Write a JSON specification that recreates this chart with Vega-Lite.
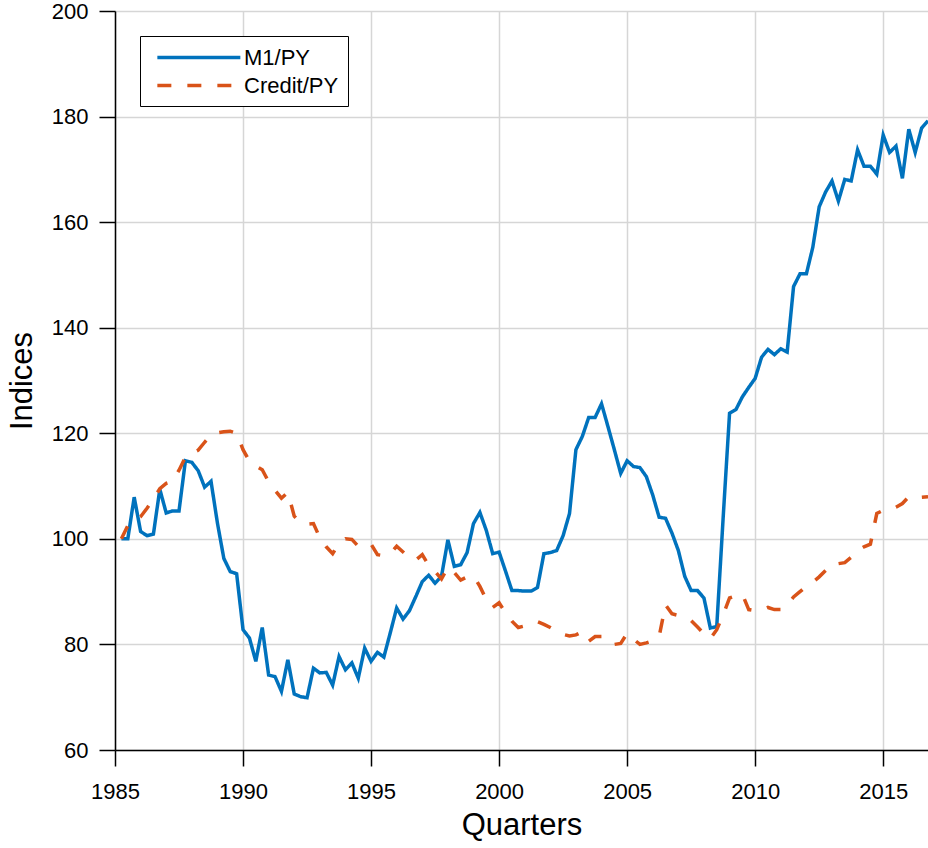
{
  "$schema": "https://vega.github.io/schema/vega-lite/v6.json",
  "width": 813,
  "height": 739,
  "autosize": {"type": "none"},
  "padding": {"left": 115, "top": 11, "right": 0, "bottom": 98},
  "background": "white",
  "config": {
    "view": {"stroke": null},
    "font": "Liberation Sans",
    "axis": {
      "domainColor": "black",
      "domainWidth": 1.5,
      "tickColor": "black",
      "tickWidth": 1.5,
      "tickSize": 16,
      "labelColor": "black",
      "titleColor": "black",
      "labelFont": "Liberation Sans",
      "titleFont": "Liberation Sans",
      "labelFontSize": 22,
      "titleFontSize": 31,
      "titleFontWeight": "normal",
      "gridColor": "#d6d6d6",
      "gridWidth": 1.5
    },
    "legend": {
      "orient": "none",
      "legendX": 25,
      "legendY": 25,
      "symbolType": "M-0.4,0H7.6",
      "symbolSize": 430.6,
      "symbolStrokeWidth": 3.5,
      "labelFont": "Liberation Sans",
      "labelFontSize": 22,
      "labelColor": "black",
      "strokeColor": "black",
      "fillColor": "white",
      "padding": 9,
      "rowPadding": 4,
      "labelOffset": 70
    }
  },
  "data": {
    "values": [
      {"t":1985.25,"M1/PY":100.0,"Credit/PY":100.0},
      {"t":1985.5,"M1/PY":100.0,"Credit/PY":102.5},
      {"t":1985.75,"M1/PY":107.9,"Credit/PY":103.6},
      {"t":1986,"M1/PY":101.4,"Credit/PY":104.2},
      {"t":1986.25,"M1/PY":100.6,"Credit/PY":105.8},
      {"t":1986.5,"M1/PY":100.9,"Credit/PY":107.5},
      {"t":1986.75,"M1/PY":109.4,"Credit/PY":109.5},
      {"t":1987,"M1/PY":104.9,"Credit/PY":110.5},
      {"t":1987.25,"M1/PY":105.3,"Credit/PY":110.9},
      {"t":1987.5,"M1/PY":105.3,"Credit/PY":113.0},
      {"t":1987.75,"M1/PY":114.8,"Credit/PY":115.5},
      {"t":1988,"M1/PY":114.5,"Credit/PY":116.2},
      {"t":1988.25,"M1/PY":112.9,"Credit/PY":116.8},
      {"t":1988.5,"M1/PY":109.8,"Credit/PY":118.3},
      {"t":1988.75,"M1/PY":110.9,"Credit/PY":119.7},
      {"t":1989,"M1/PY":103.0,"Credit/PY":120.1},
      {"t":1989.25,"M1/PY":96.3,"Credit/PY":120.3},
      {"t":1989.5,"M1/PY":93.8,"Credit/PY":120.4},
      {"t":1989.75,"M1/PY":93.4,"Credit/PY":120.0},
      {"t":1990,"M1/PY":82.8,"Credit/PY":116.9},
      {"t":1990.25,"M1/PY":81.2,"Credit/PY":114.7},
      {"t":1990.5,"M1/PY":76.8,"Credit/PY":113.8},
      {"t":1990.75,"M1/PY":83.2,"Credit/PY":113.1},
      {"t":1991,"M1/PY":74.2,"Credit/PY":110.8},
      {"t":1991.25,"M1/PY":73.9,"Credit/PY":109.2},
      {"t":1991.5,"M1/PY":71.1,"Credit/PY":107.7},
      {"t":1991.75,"M1/PY":77.1,"Credit/PY":108.8},
      {"t":1992,"M1/PY":70.6,"Credit/PY":104.3},
      {"t":1992.25,"M1/PY":70.1,"Credit/PY":103.0},
      {"t":1992.5,"M1/PY":69.9,"Credit/PY":102.8},
      {"t":1992.75,"M1/PY":75.5,"Credit/PY":102.9},
      {"t":1993,"M1/PY":74.6,"Credit/PY":100.2},
      {"t":1993.25,"M1/PY":74.7,"Credit/PY":98.5},
      {"t":1993.5,"M1/PY":72.3,"Credit/PY":97.2},
      {"t":1993.75,"M1/PY":77.7,"Credit/PY":99.2},
      {"t":1994,"M1/PY":75.2,"Credit/PY":100.0},
      {"t":1994.25,"M1/PY":76.5,"Credit/PY":99.9},
      {"t":1994.5,"M1/PY":73.6,"Credit/PY":98.6},
      {"t":1994.75,"M1/PY":79.3,"Credit/PY":98.8},
      {"t":1995,"M1/PY":76.8,"Credit/PY":99.0},
      {"t":1995.25,"M1/PY":78.5,"Credit/PY":97.0},
      {"t":1995.5,"M1/PY":77.6,"Credit/PY":96.8},
      {"t":1995.75,"M1/PY":82.2,"Credit/PY":97.2},
      {"t":1996,"M1/PY":86.9,"Credit/PY":98.6},
      {"t":1996.25,"M1/PY":84.8,"Credit/PY":97.5},
      {"t":1996.5,"M1/PY":86.4,"Credit/PY":96.4},
      {"t":1996.75,"M1/PY":89.1,"Credit/PY":96.0},
      {"t":1997,"M1/PY":91.9,"Credit/PY":97.0},
      {"t":1997.25,"M1/PY":93.1,"Credit/PY":95.0},
      {"t":1997.5,"M1/PY":91.6,"Credit/PY":93.8},
      {"t":1997.75,"M1/PY":92.9,"Credit/PY":92.4},
      {"t":1998,"M1/PY":99.8,"Credit/PY":94.6},
      {"t":1998.25,"M1/PY":94.8,"Credit/PY":93.6},
      {"t":1998.5,"M1/PY":95.1,"Credit/PY":92.2},
      {"t":1998.75,"M1/PY":97.4,"Credit/PY":92.8},
      {"t":1999,"M1/PY":102.9,"Credit/PY":93.0},
      {"t":1999.25,"M1/PY":105.0,"Credit/PY":91.0},
      {"t":1999.5,"M1/PY":101.6,"Credit/PY":88.5},
      {"t":1999.75,"M1/PY":97.2,"Credit/PY":87.0},
      {"t":2000,"M1/PY":97.5,"Credit/PY":87.9},
      {"t":2000.25,"M1/PY":93.9,"Credit/PY":86.0},
      {"t":2000.5,"M1/PY":90.2,"Credit/PY":84.4},
      {"t":2000.75,"M1/PY":90.2,"Credit/PY":83.2},
      {"t":2001,"M1/PY":90.1,"Credit/PY":83.5},
      {"t":2001.25,"M1/PY":90.1,"Credit/PY":84.0},
      {"t":2001.5,"M1/PY":90.8,"Credit/PY":84.3},
      {"t":2001.75,"M1/PY":97.2,"Credit/PY":83.8},
      {"t":2002,"M1/PY":97.4,"Credit/PY":83.2},
      {"t":2002.25,"M1/PY":97.8,"Credit/PY":82.5},
      {"t":2002.5,"M1/PY":100.6,"Credit/PY":81.9},
      {"t":2002.75,"M1/PY":104.8,"Credit/PY":81.6},
      {"t":2003,"M1/PY":116.9,"Credit/PY":81.8},
      {"t":2003.25,"M1/PY":119.4,"Credit/PY":82.4},
      {"t":2003.5,"M1/PY":123.0,"Credit/PY":80.6},
      {"t":2003.75,"M1/PY":123.0,"Credit/PY":81.5},
      {"t":2004,"M1/PY":125.6,"Credit/PY":81.5},
      {"t":2004.25,"M1/PY":121.3,"Credit/PY":80.3},
      {"t":2004.5,"M1/PY":116.9,"Credit/PY":80.0},
      {"t":2004.75,"M1/PY":112.4,"Credit/PY":80.2},
      {"t":2005,"M1/PY":114.8,"Credit/PY":82.1},
      {"t":2005.25,"M1/PY":113.7,"Credit/PY":81.0},
      {"t":2005.5,"M1/PY":113.5,"Credit/PY":80.0},
      {"t":2005.75,"M1/PY":111.8,"Credit/PY":80.3},
      {"t":2006,"M1/PY":108.3,"Credit/PY":80.7},
      {"t":2006.25,"M1/PY":104.1,"Credit/PY":81.5},
      {"t":2006.5,"M1/PY":103.9,"Credit/PY":87.5},
      {"t":2006.75,"M1/PY":101.1,"Credit/PY":85.8},
      {"t":2007,"M1/PY":97.8,"Credit/PY":85.5},
      {"t":2007.25,"M1/PY":92.9,"Credit/PY":85.1},
      {"t":2007.5,"M1/PY":90.2,"Credit/PY":84.5},
      {"t":2007.75,"M1/PY":90.2,"Credit/PY":83.3},
      {"t":2008,"M1/PY":88.8,"Credit/PY":82.0},
      {"t":2008.25,"M1/PY":83.1,"Credit/PY":81.1},
      {"t":2008.5,"M1/PY":83.4,"Credit/PY":82.8},
      {"t":2008.75,"M1/PY":104.0,"Credit/PY":85.6},
      {"t":2009,"M1/PY":123.8,"Credit/PY":88.8},
      {"t":2009.25,"M1/PY":124.5,"Credit/PY":89.2},
      {"t":2009.5,"M1/PY":126.9,"Credit/PY":89.5},
      {"t":2009.75,"M1/PY":128.7,"Credit/PY":86.6},
      {"t":2010,"M1/PY":130.4,"Credit/PY":86.4},
      {"t":2010.25,"M1/PY":134.4,"Credit/PY":86.5},
      {"t":2010.5,"M1/PY":135.9,"Credit/PY":87.0},
      {"t":2010.75,"M1/PY":134.9,"Credit/PY":86.6},
      {"t":2011,"M1/PY":136.0,"Credit/PY":86.6},
      {"t":2011.25,"M1/PY":135.4,"Credit/PY":87.5},
      {"t":2011.5,"M1/PY":147.8,"Credit/PY":89.0},
      {"t":2011.75,"M1/PY":150.2,"Credit/PY":90.0},
      {"t":2012,"M1/PY":150.2,"Credit/PY":91.0},
      {"t":2012.25,"M1/PY":155.2,"Credit/PY":91.8},
      {"t":2012.5,"M1/PY":162.9,"Credit/PY":92.8},
      {"t":2012.75,"M1/PY":165.7,"Credit/PY":94.0},
      {"t":2013,"M1/PY":167.8,"Credit/PY":95.3},
      {"t":2013.25,"M1/PY":164.0,"Credit/PY":95.3},
      {"t":2013.5,"M1/PY":168.1,"Credit/PY":95.5},
      {"t":2013.75,"M1/PY":167.8,"Credit/PY":96.5},
      {"t":2014,"M1/PY":173.7,"Credit/PY":97.8},
      {"t":2014.25,"M1/PY":170.6,"Credit/PY":98.5},
      {"t":2014.5,"M1/PY":170.6,"Credit/PY":99.0},
      {"t":2014.75,"M1/PY":169.1,"Credit/PY":104.8},
      {"t":2015,"M1/PY":176.5,"Credit/PY":105.4},
      {"t":2015.25,"M1/PY":173.2,"Credit/PY":105.5},
      {"t":2015.5,"M1/PY":174.4,"Credit/PY":106.0},
      {"t":2015.75,"M1/PY":168.3,"Credit/PY":106.7},
      {"t":2016,"M1/PY":177.6,"Credit/PY":108.0},
      {"t":2016.25,"M1/PY":173.2,"Credit/PY":107.8},
      {"t":2016.5,"M1/PY":177.8,"Credit/PY":107.9},
      {"t":2016.75,"M1/PY":179.2,"Credit/PY":108.0}
    ]
  },
  "transform": [
    {"fold": ["M1/PY", "Credit/PY"], "as": ["series", "value"]}
  ],
  "mark": {"type": "line", "strokeWidth": 3.5, "clip": true},
  "encoding": {
    "x": {
      "field": "t",
      "type": "quantitative",
      "scale": {"domain": [1985, 2016.75], "nice": false, "zero": false},
      "axis": {
        "title": "Quarters",
        "values": [1985, 1990, 1995, 2000, 2005, 2010, 2015],
        "format": "d",
        "labelFlush": false,
        "labelPadding": 15,
        "titlePadding": 8
      }
    },
    "y": {
      "field": "value",
      "type": "quantitative",
      "scale": {"domain": [60, 200], "nice": false, "zero": false},
      "axis": {
        "title": "Indices",
        "values": [60, 80, 100, 120, 140, 160, 180, 200],
        "labelFlush": false,
        "labelPadding": 11,
        "titlePadding": 13
      }
    },
    "color": {
      "field": "series",
      "type": "nominal",
      "scale": {"domain": ["M1/PY", "Credit/PY"], "range": ["#0072BD", "#D95319"]},
      "legend": {"title": null}
    },
    "strokeDash": {
      "field": "series",
      "type": "nominal",
      "scale": {"domain": ["M1/PY", "Credit/PY"], "range": [[1, 0], [14, 16]]},
      "legend": {"title": null}
    }
  }
}
